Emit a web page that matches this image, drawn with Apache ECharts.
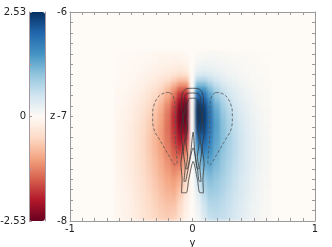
<!DOCTYPE html>
<html><head><meta charset="utf-8">
<script src="https://cdn.jsdelivr.net/npm/echarts@6/dist/echarts.min.js"></script>
<style>
html,body{margin:0;padding:0;background:#fff}
#wrap{position:relative;width:332px;height:247px}
#clip{position:absolute;left:70px;top:12px;width:245px;height:209px;overflow:hidden;background:#fefaf5}
#heat{position:absolute;left:-70px;top:-12px;width:332px;height:247px;filter:blur(1.6px)}
#c{position:absolute;left:0;top:0;width:332px;height:247px}
</style>
</head><body><div id="wrap"><div id="clip"><div id="heat"></div></div><div id="c"></div></div>
<script>
// grid cell centres (data units)
const xCenters = [-0.6,-0.55,-0.5,-0.45,-0.4,-0.35,-0.3,-0.25,-0.2,-0.15,-0.1,-0.05,0,0.05,0.1,0.15,0.2,0.25,0.3,0.35,0.4,0.45,0.5,0.55,0.6];
const yCenters = [-6.4,-6.45,-6.5,-6.55,-6.6,-6.65,-6.7,-6.75,-6.8,-6.85,-6.9,-6.95,-7.0,-7.05,-7.1,-7.15,-7.2,-7.25,-7.3,-7.35,-7.4,-7.45,-7.5,-7.55,-7.6,-7.65,-7.7,-7.75,-7.8,-7.85,-7.9,-7.95,-8.0];
// z values, one row per yCenters entry, columns follow xCenters
const zValues = [
[-.01,-.01,-.02,-.02,-.03,-.04,-.05,-.06,-.07,-.07,-.06,-.04,0,.04,.06,.07,.07,.06,.05,.04,.03,.02,.02,.01,.01],
[-.01,-.02,-.02,-.03,-.04,-.06,-.07,-.09,-.10,-.11,-.10,-.07,0,.07,.10,.11,.10,.09,.07,.06,.04,.03,.02,.02,.01],
[-.01,-.02,-.03,-.04,-.06,-.08,-.10,-.12,-.14,-.16,-.16,-.12,0,.12,.16,.16,.14,.12,.10,.08,.06,.04,.03,.02,.01],
[-.02,-.03,-.04,-.06,-.08,-.10,-.13,-.16,-.20,-.24,-.26,-.22,0,.22,.26,.24,.20,.16,.13,.10,.08,.06,.04,.03,.02],
[-.02,-.03,-.05,-.07,-.10,-.14,-.18,-.23,-.30,-.38,-.44,-.40,0,.40,.44,.38,.30,.23,.18,.14,.10,.07,.05,.03,.02],
[-.03,-.04,-.06,-.09,-.13,-.18,-.24,-.32,-.43,-.58,-.72,-.70,0,.70,.72,.58,.43,.32,.24,.18,.13,.09,.06,.04,.03],
[-.03,-.05,-.08,-.12,-.17,-.24,-.32,-.43,-.60,-.85,-1.10,-1.10,0,1.10,1.10,.85,.60,.43,.32,.24,.17,.12,.08,.05,.03],
[-.04,-.06,-.10,-.15,-.21,-.30,-.41,-.55,-.78,-1.12,-1.50,-1.55,0,1.55,1.50,1.12,.78,.55,.41,.30,.21,.15,.10,.06,.04],
[-.05,-.08,-.12,-.18,-.26,-.36,-.49,-.67,-.94,-1.35,-1.85,-1.95,0,1.95,1.85,1.35,.94,.67,.49,.36,.26,.18,.12,.08,.05],
[-.06,-.09,-.14,-.21,-.30,-.42,-.57,-.77,-1.08,-1.55,-2.12,-2.25,0,2.25,2.12,1.55,1.08,.77,.57,.42,.30,.21,.14,.09,.06],
[-.06,-.10,-.16,-.24,-.34,-.47,-.64,-.86,-1.20,-1.70,-2.30,-2.42,0,2.42,2.30,1.70,1.20,.86,.64,.47,.34,.24,.16,.10,.06],
[-.07,-.12,-.18,-.27,-.38,-.52,-.70,-.93,-1.28,-1.80,-2.40,-2.50,0,2.50,2.40,1.80,1.28,.93,.70,.52,.38,.27,.18,.12,.07],
[-.08,-.13,-.20,-.29,-.41,-.56,-.75,-.99,-1.34,-1.85,-2.42,-2.50,0,2.50,2.42,1.85,1.34,.99,.75,.56,.41,.29,.20,.13,.08],
[-.08,-.14,-.21,-.31,-.44,-.60,-.79,-1.03,-1.37,-1.86,-2.40,-2.45,0,2.45,2.40,1.86,1.37,1.03,.79,.60,.44,.31,.21,.14,.08],
[-.09,-.15,-.23,-.33,-.46,-.62,-.81,-1.05,-1.38,-1.84,-2.33,-2.35,0,2.35,2.33,1.84,1.38,1.05,.81,.62,.46,.33,.23,.15,.09],
[-.09,-.15,-.24,-.34,-.48,-.64,-.83,-1.06,-1.37,-1.80,-2.24,-2.22,0,2.22,2.24,1.80,1.37,1.06,.83,.64,.48,.34,.24,.15,.09],
[-.10,-.16,-.24,-.35,-.49,-.65,-.84,-1.06,-1.35,-1.74,-2.12,-1.95,0,1.95,2.12,1.74,1.35,1.06,.84,.65,.49,.35,.24,.16,.10],
[-.10,-.16,-.25,-.36,-.50,-.66,-.84,-1.05,-1.32,-1.67,-1.98,-1.72,0,1.72,1.98,1.67,1.32,1.05,.84,.66,.50,.36,.25,.16,.10],
[-.10,-.16,-.25,-.36,-.50,-.66,-.83,-1.03,-1.28,-1.59,-1.84,-1.50,0,1.50,1.84,1.59,1.28,1.03,.83,.66,.50,.36,.25,.16,.10],
[-.10,-.16,-.25,-.36,-.50,-.65,-.82,-1.00,-1.24,-1.51,-1.68,-1.30,0,1.30,1.68,1.51,1.24,1.00,.82,.65,.50,.36,.25,.16,.10],
[-.10,-.16,-.25,-.36,-.49,-.64,-.80,-.97,-1.19,-1.43,-1.45,-1.10,0,1.10,1.45,1.43,1.19,.97,.80,.64,.49,.36,.25,.16,.10],
[-.10,-.16,-.25,-.35,-.48,-.63,-.78,-.94,-1.14,-1.35,-1.31,-.92,0,.92,1.31,1.35,1.14,.94,.78,.63,.48,.35,.25,.16,.10],
[-.10,-.16,-.24,-.35,-.47,-.61,-.75,-.91,-1.09,-1.26,-1.18,-.78,0,.78,1.18,1.26,1.09,.91,.75,.61,.47,.35,.24,.16,.10],
[-.09,-.15,-.24,-.34,-.46,-.59,-.73,-.88,-1.04,-1.18,-1.06,-.65,0,.65,1.06,1.18,1.04,.88,.73,.59,.46,.34,.24,.15,.09],
[-.09,-.15,-.23,-.33,-.44,-.57,-.70,-.84,-.99,-1.10,-.95,-.54,0,.54,.95,1.10,.99,.84,.70,.57,.44,.33,.23,.15,.09],
[-.09,-.14,-.22,-.32,-.43,-.55,-.68,-.81,-.94,-1.02,-.84,-.44,0,.44,.84,1.02,.94,.81,.68,.55,.43,.32,.22,.14,.09],
[-.08,-.14,-.21,-.31,-.41,-.53,-.65,-.77,-.89,-.95,-.74,-.36,0,.36,.74,.95,.89,.77,.65,.53,.41,.31,.21,.14,.08],
[-.08,-.13,-.20,-.30,-.40,-.51,-.62,-.74,-.84,-.88,-.66,-.29,0,.29,.66,.88,.84,.74,.62,.51,.40,.30,.20,.13,.08],
[-.08,-.13,-.19,-.28,-.38,-.49,-.60,-.70,-.79,-.81,-.58,-.23,0,.23,.58,.81,.79,.70,.60,.49,.38,.28,.19,.13,.08],
[-.07,-.12,-.18,-.27,-.37,-.47,-.57,-.67,-.74,-.74,-.51,-.19,0,.19,.51,.74,.74,.67,.57,.47,.37,.27,.18,.12,.07],
[-.07,-.12,-.18,-.26,-.35,-.45,-.55,-.64,-.70,-.68,-.45,-.16,0,.16,.45,.68,.70,.64,.55,.45,.35,.26,.18,.12,.07],
[-.07,-.11,-.17,-.25,-.34,-.43,-.53,-.61,-.66,-.62,-.40,-.13,0,.13,.40,.62,.66,.61,.53,.43,.34,.25,.17,.11,.07],
[-.07,-.11,-.16,-.24,-.33,-.42,-.51,-.58,-.62,-.57,-.35,-.11,0,.11,.35,.57,.62,.58,.51,.42,.33,.24,.16,.11,.07]
];
// contour lines (data units)
const contourSolid1 = [[-0.07,-7.73],[-0.09,-7.73],[-0.085,-7.6],[-0.095,-7.45],[-0.08,-7.3],[-0.095,-7.15],[-0.08,-7.0],[-0.09,-6.87],[-0.08,-6.77],[-0.05,-6.735],[0,-6.73],[0.05,-6.735],[0.08,-6.77],[0.09,-6.87],[0.08,-7.0],[0.095,-7.15],[0.08,-7.3],[0.095,-7.45],[0.085,-7.6],[0.09,-7.73],[0.06,-7.73],[0.04,-7.6],[0.005,-7.43],[-0.03,-7.6],[-0.05,-7.73],[-0.07,-7.73]];
const contourSolid2 = [[-0.055,-7.62],[-0.07,-7.62],[-0.06,-7.48],[-0.075,-7.33],[-0.06,-7.18],[-0.075,-7.03],[-0.06,-6.9],[-0.065,-6.82],[-0.045,-6.78],[0,-6.775],[0.045,-6.78],[0.065,-6.82],[0.06,-6.9],[0.075,-7.03],[0.06,-7.18],[0.075,-7.33],[0.06,-7.48],[0.07,-7.62],[0.055,-7.62],[0.04,-7.5],[0.005,-7.3],[-0.035,-7.5],[-0.055,-7.62]];
const contourSolid3 = [[-0.04,-7.5],[-0.055,-7.5],[-0.04,-7.38],[-0.055,-7.24],[-0.04,-7.1],[-0.055,-6.97],[-0.04,-6.87],[-0.03,-6.83],[0,-6.825],[0.03,-6.83],[0.04,-6.87],[0.055,-6.97],[0.04,-7.1],[0.055,-7.24],[0.04,-7.38],[0.055,-7.5],[0.04,-7.5],[0.02,-7.35],[0.005,-7.15],[-0.015,-7.35],[-0.04,-7.5]];
const contourDashedLeft = [[-0.19,-6.77],[-0.23,-6.775],[-0.27,-6.8],[-0.305,-6.86],[-0.325,-6.95],[-0.325,-7.05],[-0.31,-7.14],[-0.28,-7.2],[-0.25,-7.26],[-0.22,-7.32],[-0.19,-7.38],[-0.16,-7.44],[-0.14,-7.465],[-0.125,-7.44],[-0.13,-7.35],[-0.14,-7.2],[-0.14,-7.0],[-0.145,-6.86],[-0.16,-6.8],[-0.19,-6.77]];
const contourDashedRight = [[0.19,-6.77],[0.23,-6.775],[0.27,-6.8],[0.305,-6.86],[0.325,-6.95],[0.325,-7.05],[0.31,-7.14],[0.28,-7.2],[0.25,-7.26],[0.22,-7.32],[0.19,-7.38],[0.16,-7.44],[0.14,-7.465],[0.125,-7.44],[0.13,-7.35],[0.14,-7.2],[0.14,-7.0],[0.145,-6.86],[0.16,-6.8],[0.19,-6.77]];
const zMin = -2.53, zMax = 2.53;

const cells = [];
yCenters.forEach((y, i) => xCenters.forEach((x, j) => cells.push([x, y, zValues[i][j]])));
const DX = Math.abs(xCenters[1] - xCenters[0]);
const DY = Math.abs(yCenters[1] - yCenters[0]);

const FONT = 'DejaVu Sans';
const AX = '#9a9a9a';
const TXT = '#222';
const CB = '#a898a0';
const CMAP = ['#67001f','#b2182b','#d6604d','#f4a582','#fddbc7','#fefaf5','#d1e5f0','#92c5de','#4393c3','#2166ac','#053061'];
const GRID_MAIN = { left: 70, top: 12, width: 245, height: 209, outerBoundsMode: 'none', containLabel: false };

function renderCell(params, api) {
  const x = api.value(0), y = api.value(1);
  const a = api.coord([x - DX / 2, y + DY / 2]);
  const b = api.coord([x + DX / 2, y - DY / 2]);
  const x0 = Math.floor(a[0]), y0 = Math.floor(a[1]);
  return { type: 'rect', shape: { x: x0, y: y0, width: Math.ceil(b[0]) - x0 + 0.5, height: Math.ceil(b[1]) - y0 + 0.5 },
    style: { fill: api.visual('color') } };
}

// heat layer
const heat = echarts.init(document.getElementById('heat'), null, { renderer: 'canvas' });
heat.setOption({
  animation: false,
  backgroundColor: '#fefaf5',
  grid: [Object.assign({ show: false }, GRID_MAIN)],
  xAxis: [{ type: 'value', min: -1, max: 1, show: false }],
  yAxis: [{ type: 'value', min: -8, max: -6, show: false }],
  visualMap: { type: 'continuous', show: false, min: zMin, max: zMax, dimension: 2, seriesIndex: 0, inRange: { color: CMAP } },
  series: [{ type: 'custom', renderItem: renderCell, data: cells, clip: true, encode: { x: 0, y: 1 }, silent: true }]
});

function mainAxis(pos, showLabels, extra) {
  return Object.assign({
    type: 'value', gridIndex: 0, position: pos,
    axisLine: { show: true, onZero: false, lineStyle: { color: AX, width: 1 } },
    axisTick: { show: true, inside: true, length: 3, lineStyle: { color: AX } },
    minorTick: { show: true, splitNumber: 10, length: 3, lineStyle: { color: AX } },
    splitLine: { show: false },
    axisLabel: { show: showLabels, fontFamily: FONT, fontSize: 10, color: TXT, margin: 3 }
  }, extra);
}

const chart = echarts.init(document.getElementById('c'), null, { renderer: 'canvas' });
chart.setOption({
  animation: false,
  backgroundColor: 'transparent',
  textStyle: { fontFamily: FONT },
  grid: [
    Object.assign({ show: false }, GRID_MAIN),
    { left: 29, top: 12, width: 16, height: 209, show: false, outerBoundsMode: 'none', containLabel: false }
  ],
  xAxis: [
    mainAxis('bottom', true, { min: -1, max: 1, interval: 1, name: 'y', nameLocation: 'middle', nameGap: 11,
      nameTextStyle: { fontFamily: FONT, fontSize: 10, color: TXT } }),
    mainAxis('top', false, { min: -1, max: 1, interval: 1 }),
    { type: 'value', gridIndex: 1, show: false, min: 0, max: 1 }
  ],
  yAxis: [
    mainAxis('left', true, { min: -8, max: -6, interval: 1 }),
    mainAxis('right', false, { min: -8, max: -6, interval: 1 }),
    { type: 'value', gridIndex: 1, position: 'left', min: zMin, max: zMax, interval: 2.53, z: 10,
      axisLine: { show: true, lineStyle: { color: CB, width: 1 } },
      axisTick: { show: true, inside: true, length: 3, lineStyle: { color: CB } },
      minorTick: { show: true, splitNumber: 2, length: 3, lineStyle: { color: CB } },
      splitLine: { show: false },
      axisLabel: { fontFamily: FONT, fontSize: 10, color: TXT, margin: 3 } },
    { type: 'value', gridIndex: 1, position: 'right', min: zMin, max: zMax, z: 10,
      name: 'z', nameLocation: 'middle', nameRotate: 0, nameGap: 5,
      nameTextStyle: { fontFamily: FONT, fontSize: 10, color: TXT },
      axisLine: { show: true, lineStyle: { color: CB, width: 1 } },
      axisTick: { show: false }, axisLabel: { show: false }, splitLine: { show: false } }
  ],
  visualMap: {
    type: 'continuous', min: zMin, max: zMax, dimension: 2, seriesIndex: 0,
    orient: 'vertical', left: 29, top: 12, itemWidth: 16, itemHeight: 209, padding: 0,
    calculable: false, hoverLink: false, text: null, showLabel: false,
    inRange: { color: CMAP }
  },
  series: [
    { type: 'custom', xAxisIndex: 0, yAxisIndex: 0, renderItem: renderCell, data: [], silent: true },
    ...[contourSolid1, contourSolid2, contourSolid3].map(d => ({
      type: 'line', xAxisIndex: 0, yAxisIndex: 0, data: d, showSymbol: false, symbol: 'none', smooth: 0.25,
      lineStyle: { color: '#3a3a3a', width: 0.8 }, silent: true, z: 5 })),
    ...[contourDashedLeft, contourDashedRight].map(d => ({
      type: 'line', xAxisIndex: 0, yAxisIndex: 0, data: d, showSymbol: false, symbol: 'none', smooth: 0.3,
      lineStyle: { color: '#555', width: 0.8, type: [3, 2] }, silent: true, z: 5 }))
  ]
});
</script></body></html>
